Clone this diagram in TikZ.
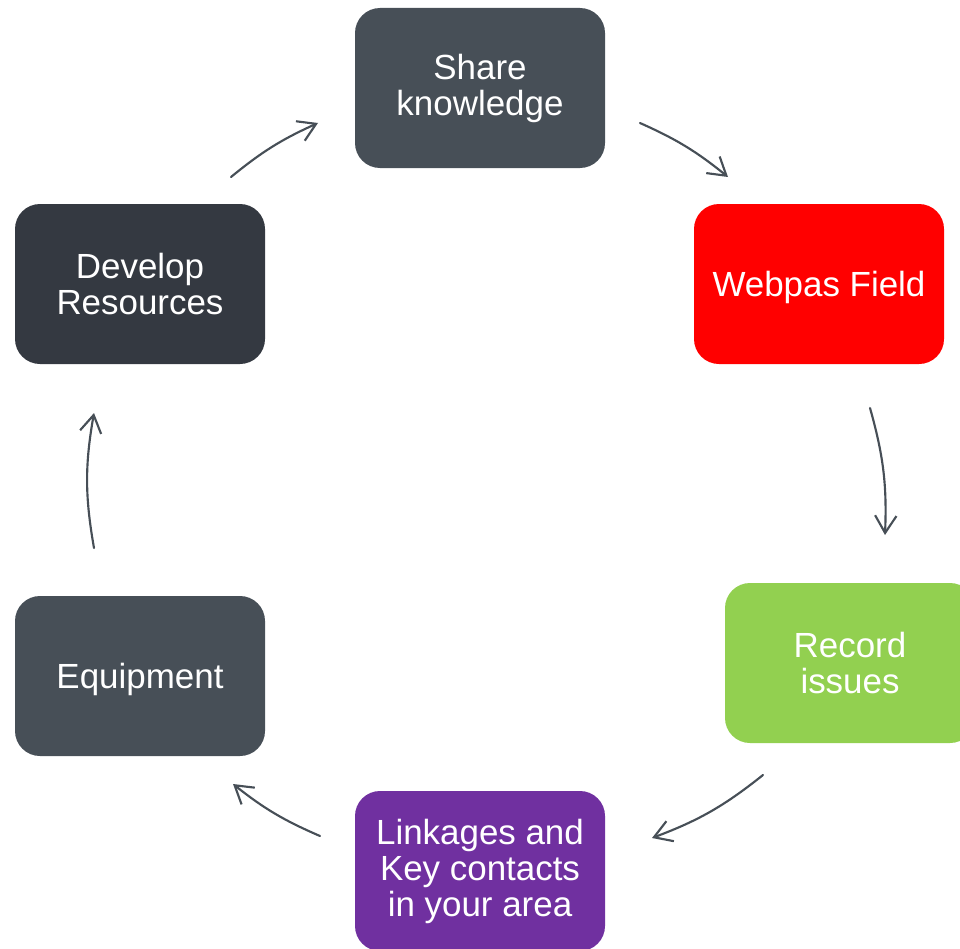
\documentclass[tikz,border=0pt]{standalone}
\usepackage{fontspec}
\setmainfont{Liberation Sans}
\usetikzlibrary{arrows.meta}
\definecolor{graybox}{RGB}{71,79,87}
\definecolor{darkbox}{RGB}{52,57,65}
\definecolor{redbox}{RGB}{255,0,0}
\definecolor{greenbox}{RGB}{146,208,80}
\definecolor{purplebox}{RGB}{112,48,160}
\definecolor{arrowcol}{RGB}{71,79,87}
\begin{document}
\begin{tikzpicture}[x=0.75pt,y=-0.75pt,
  box/.style={rectangle, rounded corners=18.75pt, minimum width=187.5pt, minimum height=120pt,
    inner sep=0pt, align=center, text=white, font=\fontsize{26.2}{27}\selectfont,
    execute at begin node={\rule{0pt}{23.7pt}}},
  cyc/.style={draw=arrowcol, line width=1.6pt, line cap=round,
    -{Straight Barb[length=13pt,width=16pt,line width=1.6pt]}}]
\useasboundingbox (0,0) rectangle (960,949);
\clip (0,0) rectangle (960,949);
\node[box, fill=graybox] (share) at (480,88) {Share\\knowledge};
\node[box, fill=redbox] (webpas) at (819,284) {Webpas Field};
\node[box, fill=greenbox] (record) at (850,663) {Record\\issues};
\node[box, fill=purplebox] (link) at (480,871) {Linkages and\\Key contacts\\in your area};
\node[box, fill=graybox] (equip) at (140,676) {Equipment};
\node[box, fill=darkbox] (develop) at (140,284) {Develop\\Resources};
\coordinate (a1s) at (231,177); \coordinate (a1e) at (318,123);
\coordinate (a2s) at (640,123); \coordinate (a2e) at (728,177);
\coordinate (a3s) at (870,408); \coordinate (a3e) at (885,535);
\coordinate (a4s) at (763,775); \coordinate (a4e) at (652,838);
\coordinate (a5s) at (320,836); \coordinate (a5e) at (233,784);
\coordinate (a6s) at (94,548);  \coordinate (a6e) at (94,413);
\draw[cyc] (a1s) to[bend left=7.5] (a1e);
\draw[cyc] (a2s) to[bend left=7.5] (a2e);
\draw[cyc] (a3s) to[bend left=9] (a3e);
\draw[cyc] (a4s) to[bend left=9] (a4e);
\draw[cyc] (a5s) to[bend left=7.5] (a5e);
\draw[cyc] (a6s) to[bend left=10] (a6e);
\end{tikzpicture}
\end{document}
